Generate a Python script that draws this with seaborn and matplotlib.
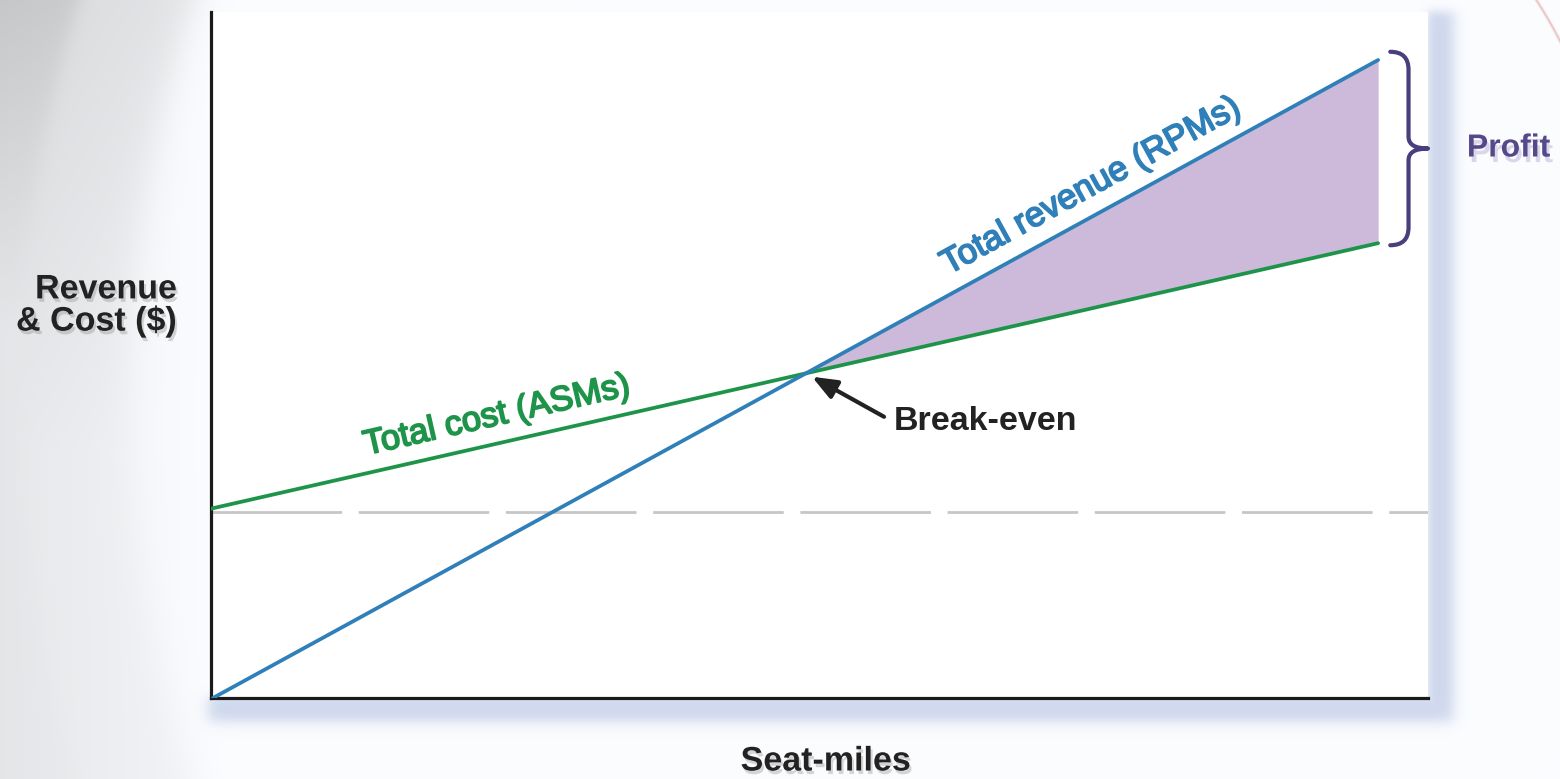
import numpy as np
import matplotlib
matplotlib.use("Agg")
import matplotlib.pyplot as plt
import matplotlib.patheffects as pe
from matplotlib.path import Path
from matplotlib.patches import PathPatch
import seaborn as sns

# ---- data -------------------------------------------------------------
seat_miles = [0.0, 95.9]          # x extent of the cost line
revenue_seat_miles = [0.16, 95.9] # x extent of the revenue line
total_revenue = [0.0, 93.0]
total_cost = [27.6, 66.3]
fixed_cost = 27.1

revenue_label = "Total revenue (RPMs)"
cost_label = "Total cost (ASMs)"
x_title = "Seat-miles"
y_title = "Revenue\n& Cost ($)"

BLUE = "#2f7fb8"
GREEN = "#1e944a"
PURPLE_FILL = "#cdb9da"
BRACE = "#4a3f7e"
PROFIT_TXT = "#56498a"

sns.set_theme(style="white")
plt.rcParams["font.family"] = ["Liberation Sans", "DejaVu Sans"]

W, H = 1560, 779
fig = plt.figure(figsize=(W / 100, H / 100), dpi=100)

# ---- page background: grey sweep on the left, soft frame shadow --------
yy, xx = np.mgrid[0:H, 0:W].astype(float)


def sstep(v, s):
    return 1.0 / (1.0 + np.exp(-v / s))


d = np.hypot(xx - 1350, yy - 390)
outer = sstep(d - 1330, 5)
band = sstep(d - 1220, 10) * (1 - outer)
val = 1.0 - 0.05 * np.clip((220 - xx) / 220, 0, 1)
val -= 0.09 * band * (0.35 + 0.65 * np.clip((450 - yy) / 450, 0, 1))
val -= 0.16 * outer * (0.25 + 0.75 * np.clip((330 - yy) / 330, 0, 1))
img = np.dstack([val * 0.985, val * 0.99, val])

right_bar = sstep(xx - 1427, 3) * sstep(1453 - xx, 4) * sstep(yy - 11, 3) * sstep(718 - yy, 4)
bottom_bar = sstep(xx - 208, 4) * sstep(1453 - xx, 4) * sstep(yy - 696, 3) * sstep(721 - yy, 4)
shadow = 0.5 * np.maximum(right_bar, bottom_bar)
shadow_col = np.array([0.62, 0.69, 0.85])
img = img * (1 - shadow[..., None]) + shadow_col * shadow[..., None]

d2 = np.hypot(xx - 1150, yy - 250)
arc = 0.5 * np.exp(-((d2 - 460) / 1.3) ** 2) * (xx > 1500) * (yy < 60)
img = img * (1 - arc[..., None]) + np.array([0.85, 0.55, 0.55]) * arc[..., None]

bg = fig.add_axes([0, 0, 1, 1], zorder=0)
bg.imshow(np.clip(img, 0, 1), aspect="auto", extent=(0, W, H, 0), interpolation="bilinear")
bg.set_axis_off()

# ---- main axes --------------------------------------------------------
ax = fig.add_axes([211 / W, (H - 698) / H, 1217 / W, 686 / H], zorder=1)
ax.set_facecolor("white")
ax.set_xlim(0, 100)
ax.set_ylim(0, 100)

# fixed-cost reference
ax.axhline(fixed_cost, color="#c6c6c6", lw=2, dashes=(47, 6), zorder=1)

sns.lineplot(x=seat_miles, y=total_cost, ax=ax, color=GREEN, lw=2.7, zorder=3)
sns.lineplot(x=revenue_seat_miles, y=total_revenue, ax=ax, color=BLUE, lw=2.7, zorder=4)

# line equations and break-even point
mr = (total_revenue[1] - total_revenue[0]) / (revenue_seat_miles[1] - revenue_seat_miles[0])
br = total_revenue[0] - mr * revenue_seat_miles[0]
mc = (total_cost[1] - total_cost[0]) / (seat_miles[1] - seat_miles[0])
bc = total_cost[0] - mc * seat_miles[0]
be_x = (bc - br) / (mr - mc)
be_y = mr * be_x + br

xs = np.linspace(be_x, seat_miles[-1], 60)
ax.fill_between(xs, mc * xs + bc, mr * xs + br, color=PURPLE_FILL, lw=0, zorder=2)

for side in ("top", "right"):
    ax.spines[side].set_visible(False)
for side in ("left", "bottom"):
    ax.spines[side].set_color("#1a1a1a")
    ax.spines[side].set_linewidth(2.3)
ax.set_xticks([])
ax.set_yticks([])


def line_label(text, x, m, b, color, gap_pt):
    p0 = ax.transData.transform((x, m * x + b))
    p1 = ax.transData.transform((x + 10, m * (x + 10) + b))
    ang = np.arctan2(p1[1] - p0[1], p1[0] - p0[0])
    off = (-np.sin(ang) * gap_pt, np.cos(ang) * gap_pt)
    ax.annotate(text, xy=(x, m * x + b), xytext=off, textcoords="offset points",
                rotation=np.degrees(ang), rotation_mode="anchor",
                ha="center", va="baseline", fontsize=25, color=color,
                path_effects=[pe.withStroke(linewidth=1.3, foreground=color)],
                zorder=5)


line_label(revenue_label, 73.4, mr, br, BLUE, 13)
line_label(cost_label, 24.0, mc, bc, GREEN, 13)

shadow_fx = [pe.withSimplePatchShadow(offset=(1.5, -2.5), shadow_rgbFace="#7a7a7a", alpha=0.3)]

ax.annotate("Break-even", xy=(be_x, be_y), xytext=(63, -35), textcoords="offset points",
            ha="left", va="center", fontsize=24.5, fontweight="bold", color="#222222",
            arrowprops=dict(arrowstyle="-|>,head_length=0.75,head_width=0.3", lw=3,
                            color="#222222", shrinkA=5, shrinkB=5, relpos=(0, 0.5),
                            mutation_scale=20),
            zorder=6)

# brace spanning the profit at the end of the range
ytop = total_revenue[-1] + 1.2
ybot = total_cost[-1] - 0.3
ymid = (ytop + ybot) / 2
x_tip, x_stem, x_mid = seat_miles[-1] + 1.0, 98.4, 100.0
k, km = 2.6, 1.7
verts = [(x_tip, ytop), (x_stem, ytop), (x_stem, ytop - k),
         (x_stem, ymid + km),
         (x_stem, ymid), (x_mid, ymid),
         (x_stem, ymid), (x_stem, ymid - km),
         (x_stem, ybot + k),
         (x_stem, ybot), (x_tip, ybot)]
codes = [Path.MOVETO, Path.CURVE3, Path.CURVE3,
         Path.LINETO,
         Path.CURVE3, Path.CURVE3,
         Path.CURVE3, Path.CURVE3,
         Path.LINETO,
         Path.CURVE3, Path.CURVE3]
ax.add_patch(PathPatch(Path(verts, codes), fill=False, ec=BRACE, lw=3,
                       capstyle="round", joinstyle="round", clip_on=False, zorder=5))

ax.annotate("Profit", xy=(x_mid, ymid), xytext=(28, 0), textcoords="offset points",
            ha="left", va="center", fontsize=23, fontweight="bold", color=PROFIT_TXT,
            annotation_clip=False,
            path_effects=[pe.withSimplePatchShadow(offset=(2, -4), shadow_rgbFace="#9d90c8", alpha=0.35)])

ax.set_ylabel(y_title, rotation=0, ha="right", va="center", fontsize=24.5,
              fontweight="bold", color="#222222", linespacing=1.05, path_effects=shadow_fx)
ax.yaxis.set_label_coords(-0.028, (698 - 306) / 686)
ax.set_xlabel(x_title, ha="center", va="center", fontsize=24.5, fontweight="bold",
              color="#222222", path_effects=shadow_fx)
ax.xaxis.set_label_coords(0.505, -(762 - 698) / 686)

fig.savefig("out.png", dpi=100)
